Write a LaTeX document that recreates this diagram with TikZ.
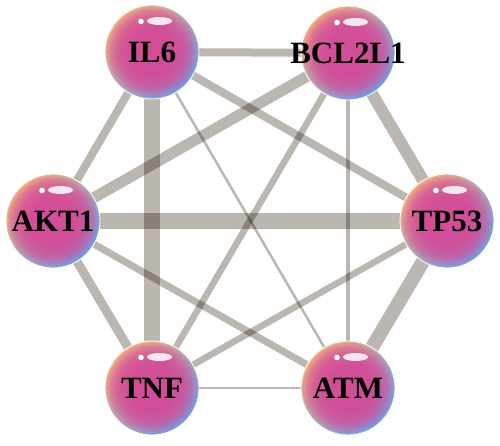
\documentclass[tikz,border=0pt]{standalone}
\usepackage{xcolor}
\usepackage{fontspec}
\setmainfont{Liberation Serif}
\usetikzlibrary{backgrounds}

\definecolor{edgegray}{RGB}{188,182,177}
\definecolor{genepink}{RGB}{214,74,152}
\definecolor{rimorange}{RGB}{246,174,128}
\definecolor{rimblue}{RGB}{108,160,232}

\begin{document}
\begin{tikzpicture}[
    x=1pt, y=1pt,
    gene/.style={circle, minimum size=94pt, inner sep=0pt, text=black,
        draw=white, line width=0.8pt,
        font=\bfseries\fontsize{31}{31}\selectfont,
        top color=rimorange, middle color=genepink, bottom color=rimblue, shading angle=45,
        path picture={
            % soft magenta core over the rim colours
            \foreach \r in {45,43,...,23}
                \fill[genepink, opacity=0.2] (path picture bounding box.center) circle (\r pt);
            \fill[white, opacity=0.85] ([shift={(7.5pt,-16pt)}]path picture bounding box.north) ellipse (12.5pt and 4pt);
            \fill[white] ([shift={(-11pt,-16.5pt)}]path picture bounding box.north) circle (2.8pt);
        }},
    link/.style={draw=edgegray, blend mode=multiply}
]
\useasboundingbox (0,0) rectangle (500,445);

% Genes
\node[gene] (il6) at (152,393) {IL6};
\node[gene] (bcl) at (348,392) {\makebox[0pt]{BCL2L1}};
\node[gene] (akt) at (53,224) {AKT1};
\node[gene] (tp53) at (447,224) {TP53};
\node[gene] (tnf) at (152,57) {TNF};
\node[gene] (atm) at (348,57) {ATM};

% Links
\begin{scope}[on background layer]
\fill[white] (0,0) rectangle (500,445);
\draw[link, line width=8pt] (il6.center) -- (bcl.center);
\draw[link, line width=8pt] (il6.center) -- (akt.center);
\draw[link, line width=8pt] (il6.center) -- (tp53.center);
\draw[link, line width=16pt] (il6.center) -- (tnf.center);
\draw[link, line width=2.5pt] (il6.center) -- (atm.center);
\draw[link, line width=11pt] (bcl.center) -- (akt.center);
\draw[link, line width=12pt] (bcl.center) -- (tp53.center);
\draw[link, line width=6.5pt] (bcl.center) -- (tnf.center);
\draw[link, line width=3.5pt] (bcl.center) -- (atm.center);
\draw[link, line width=16pt] (akt.center) -- (tp53.center);
\draw[link, line width=9pt] (akt.center) -- (tnf.center);
\draw[link, line width=7pt] (akt.center) -- (atm.center);
\draw[link, line width=6.5pt] (tp53.center) -- (tnf.center);
\draw[link, line width=14pt] (tp53.center) -- (atm.center);
\draw[link, line width=2.5pt] (tnf.center) -- (atm.center);
\end{scope}

\end{tikzpicture}
\end{document}
